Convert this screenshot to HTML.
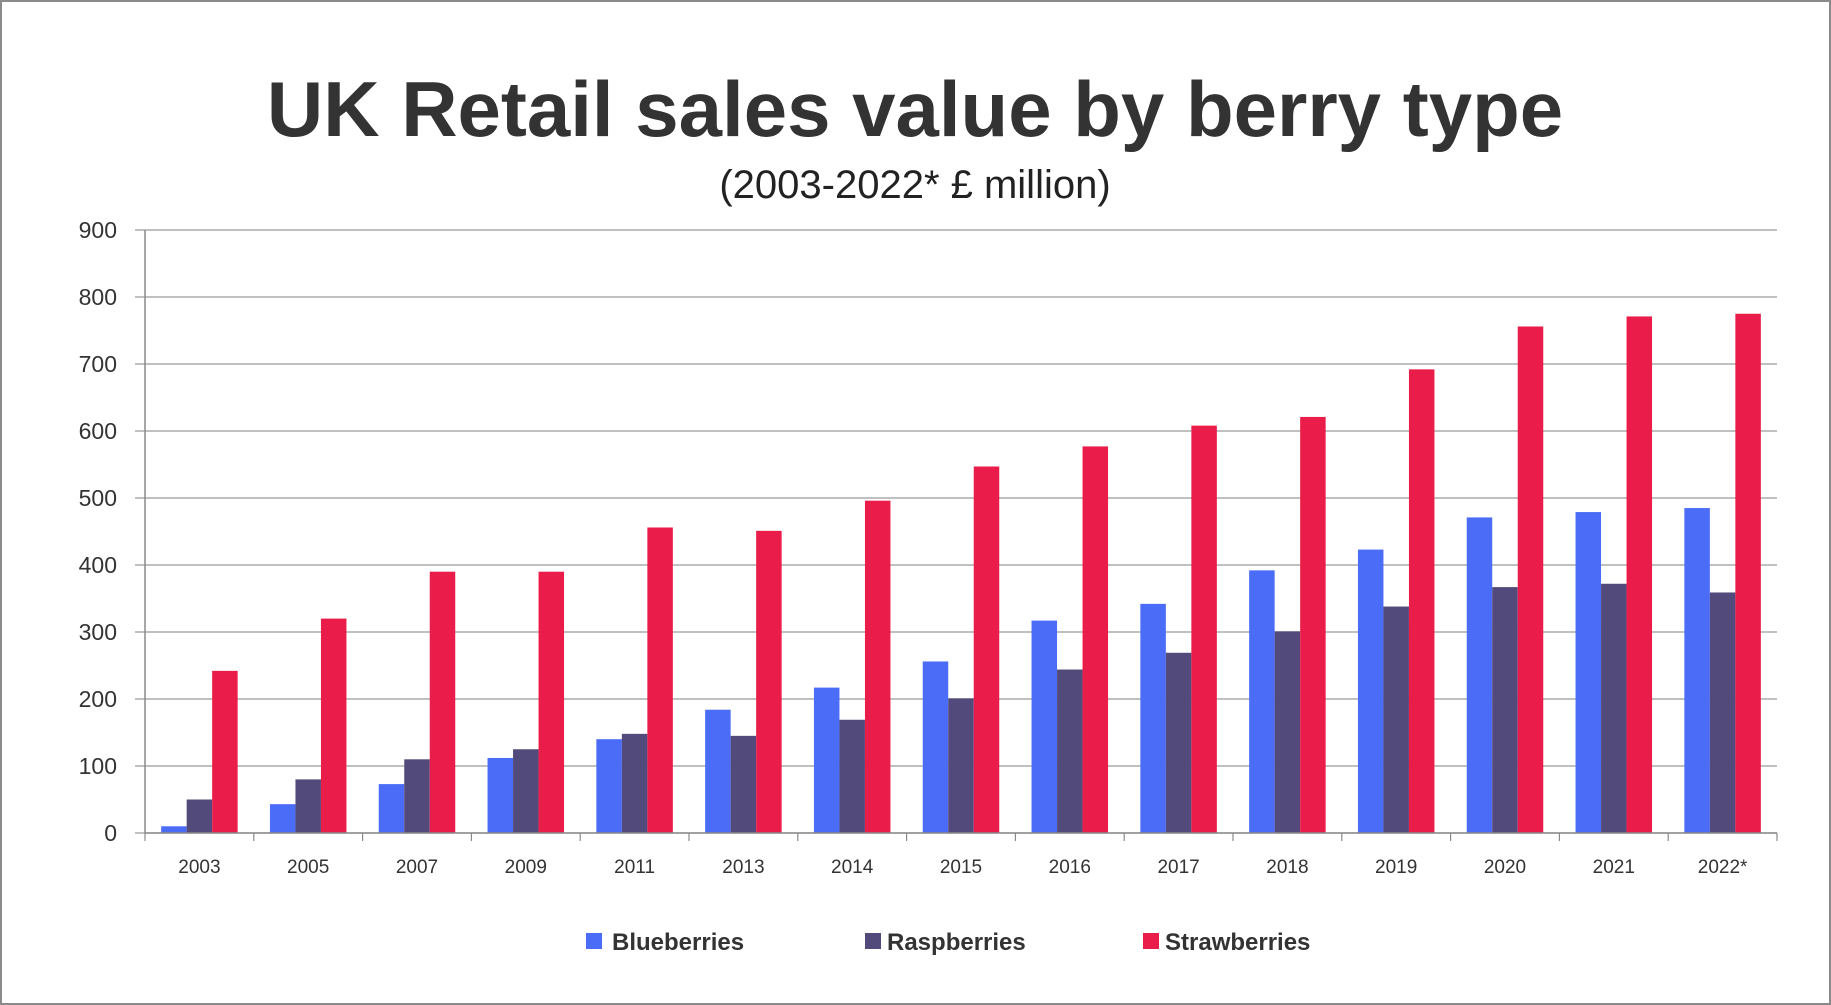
<!DOCTYPE html>
<html><head><meta charset="utf-8"><style>
body{margin:0;background:#fff;}
svg{display:block;font-family:"Liberation Sans",sans-serif;}
</style></head><body>
<svg id="chart" width="1831" height="1005" viewBox="0 0 1831 1005">
<rect x="1" y="1" width="1829" height="1003" fill="#fff" stroke="#8a8a8a" stroke-width="2"/>
<text x="915" y="136" text-anchor="middle" font-size="78" font-weight="bold" fill="#333">UK Retail sales value by berry type</text>
<text x="915" y="198" text-anchor="middle" font-size="40" fill="#222">(2003-2022* £ million)</text>
<g id="grid"></g><g id="bars"></g><g id="axes"></g>
<g>
<rect x="586" y="933" width="16" height="16" fill="#4A6CF7"/>
<text x="612" y="950" font-size="24" font-weight="bold" fill="#333">Blueberries</text>
<rect x="865" y="933" width="16" height="16" fill="#524A7A"/>
<text x="887" y="950" font-size="24" font-weight="bold" fill="#333">Raspberries</text>
<rect x="1143" y="933" width="16" height="16" fill="#EA1D4A"/>
<text x="1165" y="950" font-size="24" font-weight="bold" fill="#333">Strawberries</text>
</g>
</svg>
<script>
const categories=["2003","2005","2007","2009","2011","2013","2014","2015","2016","2017","2018","2019","2020","2021","2022*"];
const blueberries=[10,43,73,112,140,184,217,256,317,342,392,423,471,479,485];
const raspberries=[50,80,110,125,148,145,169,201,244,269,301,338,367,372,359];
const strawberries=[242,320,390,390,456,451,496,547,577,608,621,692,756,771,775];
const yTicks=[0,100,200,300,400,500,600,700,800,900];
const NS="http://www.w3.org/2000/svg";
const L=145,R=1777,T=230,B=833,yMax=900;
const y=v=>B-(v/yMax)*(B-T);
const gw=(R-L)/categories.length;
const x=i=>L+i*gw;
function mk(tag,attrs,parent){const e=document.createElementNS(NS,tag);for(const k in attrs)e.setAttribute(k,attrs[k]);document.getElementById(parent).appendChild(e);return e;}
yTicks.forEach(v=>{
  const g=mk('line',{x1:L-10,x2:R,y1:y(v),y2:y(v),stroke:'#9a9a9a','stroke-width':1.2},'grid');
  
  
  const t=mk('text',{x:117,y:y(v)+8,'text-anchor':'end','font-size':23,fill:'#333'},'axes');
  t.textContent=v;
  
  
});
const ax=mk('line',{x1:L,x2:L,y1:T,y2:B,stroke:'#8a8a8a','stroke-width':1.5},'axes');


const series=[[blueberries,'#4A6CF7','blueberries'],[raspberries,'#524A7A','raspberries'],[strawberries,'#EA1D4A','strawberries']];
const bw=25.5,off=(gw-3*bw)/2;
categories.forEach((c,i)=>{
  series.forEach((s,j)=>{
    const v=s[0][i];
    const r=mk('rect',{x:x(i)+off+j*bw,y:y(v),width:bw,height:B-y(v),fill:s[1]},'bars');
    
    
  });
  const tk=mk('line',{x1:x(i),x2:x(i),y1:B,y2:B+8,stroke:'#8a8a8a','stroke-width':1.2},'axes');
  
  
  const t=mk('text',{x:x(i)+gw/2,y:B+40,'text-anchor':'middle','font-size':19,fill:'#333'},'axes');
  t.textContent=c;
  
  
});
const tkr=mk('line',{x1:R,x2:R,y1:B,y2:B+8,stroke:'#8a8a8a','stroke-width':1.2},'axes');


const xa=mk('line',{x1:L,x2:R,y1:B,y2:B,stroke:'#8a8a8a','stroke-width':1.5},'axes');


</script>
</body></html>
